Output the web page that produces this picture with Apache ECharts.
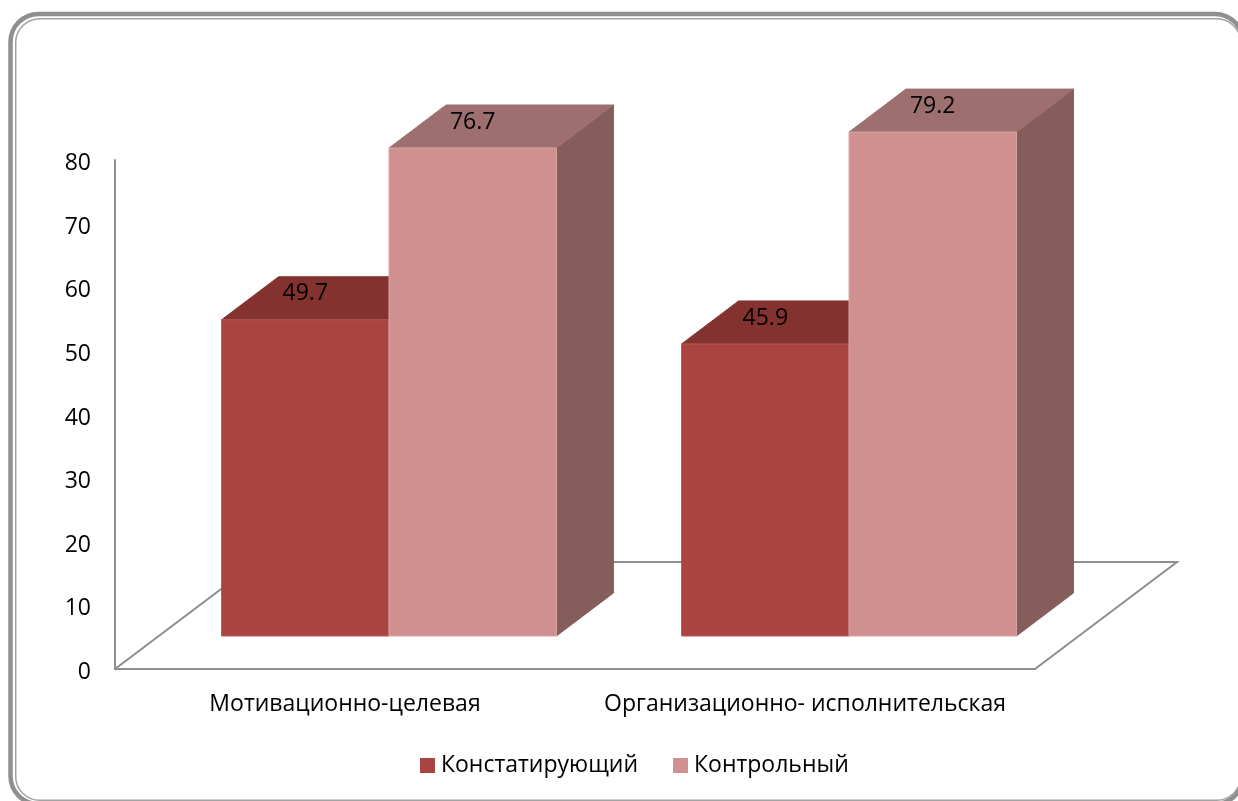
<!DOCTYPE html>
<html>
<head>
<meta charset="utf-8">
<style>html,body{margin:0;padding:0;background:#fff;overflow:hidden}#chart{width:1238px;height:801px}</style>
<script src="https://cdn.jsdelivr.net/npm/echarts@6/dist/echarts.min.js"></script>
</head>
<body>
<div id="chart"></div>
<script>
const categories = ['Мотивационно-целевая', 'Организационно- исполнительская'];
const seriesNames = ['Констатирующий', 'Контрольный'];
const baseline = [49.7, 45.9];
const control = [76.7, 79.2];
const yTicks = { min: 0, max: 80, step: 10 };

const FONT = '"Open Sans", "Noto Sans", sans-serif';
const FONT_SIZE = 23;
const TEXT = '#000000';
const AXIS = '#8e8e8e';
const palette = [
  { front: '#a94442', top: '#833230', side: '#6e2c2a', edge: '#b65a58' },
  { front: '#d09090', top: '#9e6f6f', side: '#855e5c', edge: '#d9a5a5' }
];

// Oblique projection: how far the floor and the bars recede on screen.
const FLOOR_DX = 142, FLOOR_DY = 107;
const BAR_SHIFT_X = 44, BAR_SHIFT_Y = 33;
const BAR_DEPTH_X = 57, BAR_DEPTH_Y = 43;
const BAR_WIDTH_RATIO = 0.364;

function poly(points, fill, stroke) {
  return {
    type: 'polygon',
    shape: { points },
    style: { fill, stroke: stroke || fill, lineWidth: 1 }
  };
}

function renderBar(seriesIndex) {
  const c = palette[seriesIndex];
  return function (params, api) {
    const cat = api.value(0);
    const val = api.value(1);
    const top = api.coord([cat, val]);
    const zero = api.coord([cat, 0]);
    const w = api.size([1, 0])[0] * BAR_WIDTH_RATIO;
    const xc = top[0] + BAR_SHIFT_X;
    const x0 = seriesIndex === 0 ? xc - w : xc;
    const x1 = x0 + w;
    const y0 = zero[1] - BAR_SHIFT_Y;
    const y1 = top[1] - BAR_SHIFT_Y;
    const dx = BAR_DEPTH_X, dy = BAR_DEPTH_Y;
    return {
      type: 'group',
      children: [
        poly([[x1, y1], [x1 + dx, y1 - dy], [x1 + dx, y0 - dy], [x1, y0]], c.side),
        poly([[x0, y1], [x0 + dx, y1 - dy], [x1 + dx, y1 - dy], [x1, y1]], c.top),
        poly([[x0, y1], [x1, y1], [x1, y0], [x0, y0]], c.front, c.edge),
        {
          type: 'text',
          z2: 10,
          style: {
            x: (x0 + x1) / 2,
            y: y1 - 26,
            text: String(val),
            fill: TEXT,
            font: FONT_SIZE + 'px ' + FONT,
            align: 'center',
            verticalAlign: 'middle'
          }
        }
      ]
    };
  };
}

function renderFloor(params, api) {
  const s = params.coordSys;
  const bx = s.x, by = s.y + s.height, ex = s.x + s.width;
  return {
    type: 'polyline',
    shape: {
      points: [[bx, by], [bx + FLOOR_DX, by - FLOOR_DY], [ex + FLOOR_DX, by - FLOOR_DY], [ex, by]]
    },
    style: { fill: 'none', stroke: AXIS, lineWidth: 2 }
  };
}

const chart = echarts.init(document.getElementById('chart'), null, { renderer: 'canvas' });
chart.setOption({
  animation: false,
  backgroundColor: '#ffffff',
  graphic: {
    elements: [
      {
        type: 'rect', silent: true, z: -1,
        shape: { x: 10.5, y: 14, width: 1232.5, height: 790, r: 28 },
        style: { fill: 'none', stroke: '#8f8f8f', lineWidth: 4.5 }
      },
      {
        type: 'rect', silent: true, z: -1,
        shape: { x: 15.7, y: 18.7, width: 1225, height: 781.5, r: 24 },
        style: { fill: 'none', stroke: '#a3a3a3', lineWidth: 1.5 }
      }
    ]
  },
  grid: { left: 115, right: 203, top: 160, bottom: 132 },
  legend: {
    left: 415,
    top: 749,
    itemWidth: 15,
    itemHeight: 15,
    itemGap: 35,
    icon: 'rect',
    data: seriesNames,
    selectedMode: false,
    textStyle: { color: TEXT, fontFamily: FONT, fontSize: FONT_SIZE, padding: [0, 0, 0, 1] }
  },
  xAxis: {
    type: 'category',
    data: categories,
    axisLine: { show: true, lineStyle: { color: AXIS, width: 2 } },
    axisTick: { show: false },
    axisLabel: { interval: 0, color: TEXT, fontFamily: FONT, fontSize: FONT_SIZE, margin: 24 },
    splitLine: { show: false }
  },
  yAxis: {
    type: 'value',
    min: yTicks.min,
    max: yTicks.max,
    interval: yTicks.step,
    axisLine: { show: true, lineStyle: { color: AXIS, width: 2 } },
    axisTick: { show: false },
    axisLabel: { color: TEXT, fontFamily: FONT, fontSize: FONT_SIZE, margin: 24, verticalAlign: 'top', lineHeight: 7 },
    splitLine: { show: false }
  },
  series: [
    {
      name: 'floor',
      type: 'custom',
      silent: true,
      clip: false,
      z: 1,
      renderItem: renderFloor,
      data: [[0, 0]]
    },
    {
      name: seriesNames[0],
      type: 'custom',
      clip: false,
      z: 2,
      itemStyle: { color: palette[0].front },
      encode: { x: 0, y: 1 },
      renderItem: renderBar(0),
      data: baseline.map((v, i) => [i, v])
    },
    {
      name: seriesNames[1],
      type: 'custom',
      clip: false,
      z: 3,
      itemStyle: { color: palette[1].front },
      encode: { x: 0, y: 1 },
      renderItem: renderBar(1),
      data: control.map((v, i) => [i, v])
    }
  ]
});
</script>
</body>
</html>
